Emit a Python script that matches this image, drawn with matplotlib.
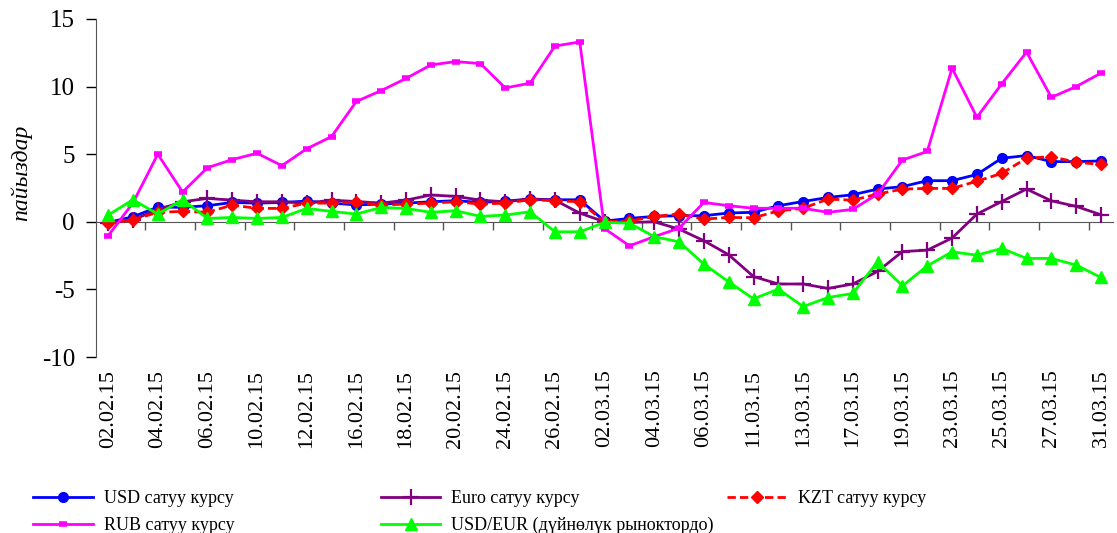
import numpy as np
import matplotlib
matplotlib.use("Agg")
import matplotlib.pyplot as plt

plt.rcParams['font.family'] = ['Liberation Serif', 'DejaVu Serif']
plt.rcParams['axes.unicode_minus'] = False

# ---------------------- data ----------------------
dates = ["02.02.15", "03.02.15", "04.02.15", "05.02.15", "06.02.15", "09.02.15",
         "10.02.15", "11.02.15", "12.02.15", "13.02.15", "16.02.15", "17.02.15",
         "18.02.15", "19.02.15", "20.02.15", "23.02.15", "24.02.15", "25.02.15",
         "26.02.15", "27.02.15", "02.03.15", "03.03.15", "04.03.15", "05.03.15",
         "06.03.15", "10.03.15", "11.03.15", "12.03.15", "13.03.15", "16.03.15",
         "17.03.15", "18.03.15", "19.03.15", "20.03.15", "23.03.15", "24.03.15",
         "25.03.15", "26.03.15", "27.03.15", "30.03.15", "31.03.15"]

usd = [-0.05, 0.37, 1.09, 1.07, 1.19, 1.43, 1.38, 1.43, 1.53, 1.38, 1.25,
       1.31, 1.38, 1.48, 1.56, 1.43, 1.53, 1.68, 1.63, 1.63, 0.05, 0.25,
       0.40, 0.45, 0.45, 0.65, 0.70, 1.19, 1.50, 1.80, 2.00, 2.42, 2.60,
       3.04, 3.04, 3.50, 4.70, 4.90, 4.45, 4.45, 4.50]

euro = [-0.10, 0.15, 0.90, 1.48, 1.73, 1.60, 1.48, 1.48, 1.38, 1.60, 1.50,
        1.38, 1.60, 1.98, 1.88, 1.60, 1.48, 1.68, 1.60, 0.64, 0.00, -0.05,
        0.00, -0.54, -1.40, -2.44, -4.05, -4.60, -4.60, -4.93, -4.60, -3.67,
        -2.20, -2.10, -1.20, 0.57, 1.50, 2.42, 1.55, 1.14, 0.52]

kzt = [-0.10, 0.15, 0.70, 0.77, 0.70, 1.24, 0.99, 0.99, 1.38, 1.38, 1.43,
       1.24, 1.31, 1.38, 1.48, 1.31, 1.38, 1.63, 1.56, 1.48, 0.00, 0.05,
       0.40, 0.57, 0.20, 0.32, 0.30, 0.80, 1.00, 1.68, 1.60, 2.05, 2.42,
       2.47, 2.47, 3.00, 3.58, 4.70, 4.82, 4.40, 4.25]

rub = [-1.04, 1.40, 5.00, 2.20, 4.00, 4.60, 5.07, 4.15, 5.40, 6.30, 8.90,
       9.70, 10.60, 11.60, 11.85, 11.70, 9.90, 10.25, 13.00, 13.30, -0.50,
       -1.78, -1.10, -0.47, 1.43, 1.19, 1.00, 1.00, 1.00, 0.70, 0.92, 2.05,
       4.57, 5.20, 11.36, 7.73, 10.20, 12.55, 9.20, 10.00, 11.00]

usd_eur = [0.50, 1.63, 0.57, 1.63, 0.25, 0.32, 0.25, 0.32, 0.99, 0.77, 0.57,
           1.06, 0.99, 0.70, 0.82, 0.40, 0.50, 0.74, -0.74, -0.74, -0.05,
           -0.10, -1.10, -1.48, -3.13, -4.44, -5.70, -4.98, -6.27, -5.60,
           -5.30, -2.96, -4.74, -3.26, -2.22, -2.47, -1.97, -2.71, -2.71,
           -3.20, -4.12]

labels = ["USD сатуу курсу", "Euro сатуу курсу", "KZT сатуу курсу",
          "RUB сатуу курсу", "USD/EUR (дүйнөлүк рыноктордо)"]

# ---------------------- plot ----------------------
x = np.arange(len(dates))

fig = plt.figure(figsize=(11.17, 5.33), dpi=100)
ax = fig.add_axes([0.0857, 0.3302, 0.9111, 0.6342])

l_usd, = ax.plot(x, usd, color="#0000FF", lw=2, marker="o", ms=7)
l_euro, = ax.plot(x, euro, color="#800080", lw=2, marker="+", ms=12, mew=1.6)
l_kzt, = ax.plot(x, kzt, color="#FF0000", lw=2, ls=(0, (3, 1.5)), marker="D", ms=6.5)
l_rub, = ax.plot(x, rub, color="#FF00FF", lw=2, marker="_", ms=6, mew=4)
l_ue, = ax.plot(x, usd_eur, color="#00FF00", lw=2, marker="^", ms=9)

ax.set_xlim(-0.5, len(dates) - 0.5)
ax.set_ylim(-10, 15)
ax.set_yticks([-10, -5, 0, 5, 10, 15])
ax.tick_params(axis="y", labelsize=18, length=7, width=1, pad=8, direction="out")

ax.set_xticks(x[::2])
ax.set_xticklabels(dates[::2], rotation=90, fontsize=16)
ax.tick_params(axis="x", length=0, pad=9)

for s in ["top", "right", "bottom"]:
    ax.spines[s].set_visible(False)
ax.spines["left"].set_color("#555555")

# horizontal axis line at zero with ticks between categories
zero = ax.secondary_xaxis(10 / 25)
zero.set_xticks(np.arange(1.5, len(dates) - 1, 2))
zero.set_xticklabels([])
zero.tick_params(length=6, width=1, direction="out", color="#555555")
zero.spines["bottom"].set_color("#555555")

ax.set_ylabel("пайыздар", fontsize=17, style="italic")
ax.yaxis.set_label_coords(-0.062, 0.545)

# legend in three columns
leg_kw = dict(frameon=False, fontsize=13, handlelength=3.3, handletextpad=0.6,
              labelspacing=0.55, loc="upper left", borderaxespad=0)
fig.legend([l_usd, l_rub], [labels[0], labels[3]],
           bbox_to_anchor=(0.0235, 0.094), **leg_kw)
fig.legend([l_euro, l_ue], [labels[1], labels[4]],
           bbox_to_anchor=(0.3345, 0.094), **leg_kw)
fig.legend([l_kzt], [labels[2]],
           bbox_to_anchor=(0.6445, 0.094), **leg_kw)

fig.savefig("out.png", dpi=100)
